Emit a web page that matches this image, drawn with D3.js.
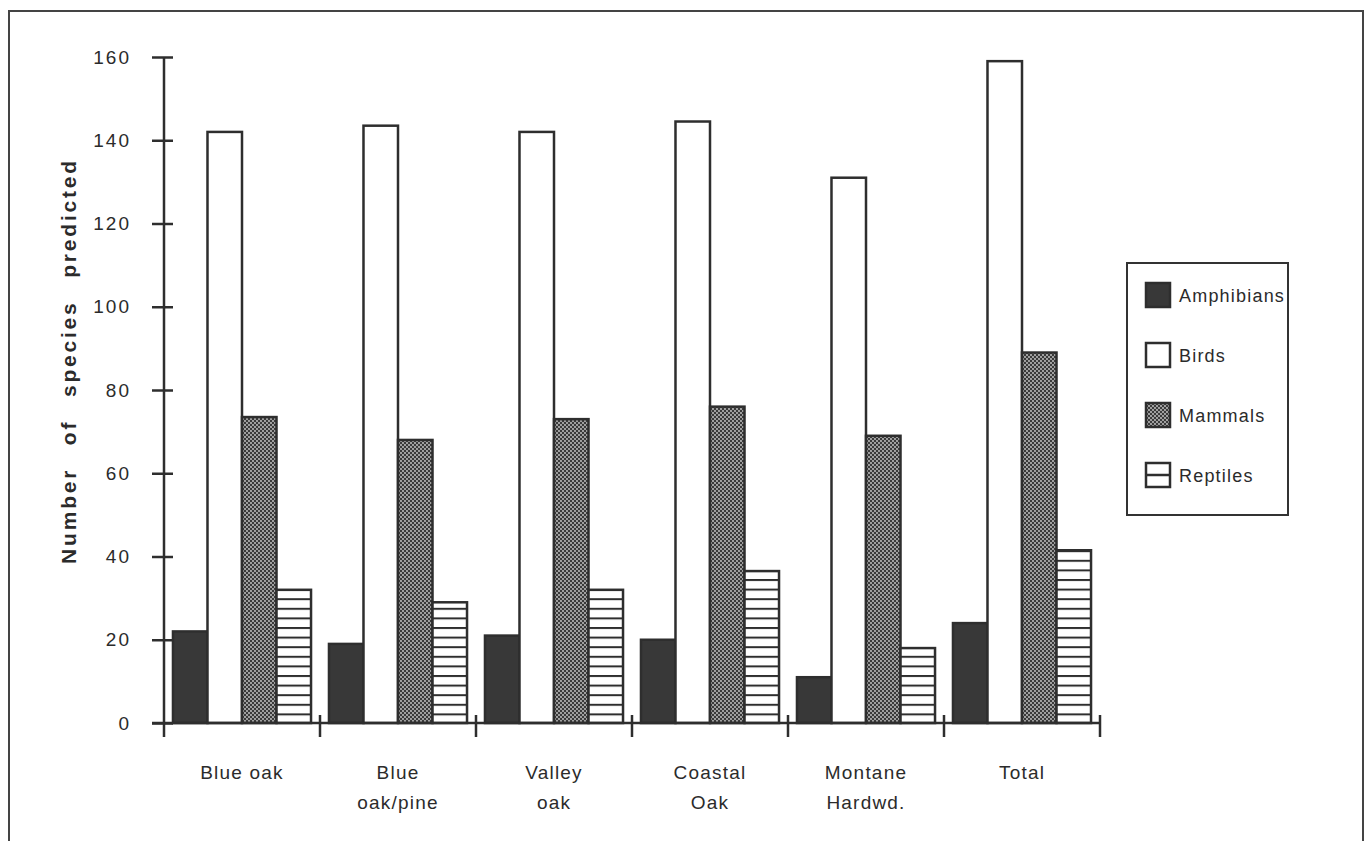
<!DOCTYPE html>
<html>
<head>
<meta charset="utf-8">
<script src="https://cdn.jsdelivr.net/npm/d3@7"></script>
<style>
  html, body { margin: 0; padding: 0; background: #fff; }
  svg { display: block; }
  text { font-family: "Liberation Sans", Arial, Helvetica, sans-serif; fill: #2b2b2b; }
</style>
</head>
<body>
<svg id="chart" width="1369" height="841"></svg>
<script>
// ---- data ----
const categories = ["Blue oak", "Blue oak/pine", "Valley oak", "Coastal Oak", "Montane Hardwd.", "Total"];
const labelLine1 = ["Blue oak", "Blue", "Valley", "Coastal", "Montane", "Total"];
const labelLine2 = ["", "oak/pine", "oak", "Oak", "Hardwd.", ""];
const series = ["Amphibians", "Birds", "Mammals", "Reptiles"];
const amphibians = [22, 19, 21, 20, 11, 24];
const birds = [142, 143.5, 142, 144.5, 131, 159];
const mammals = [73.5, 68, 73, 76, 69, 89];
const reptiles = [32, 29, 32, 36.5, 18, 41.5];
const yTicks = [0, 20, 40, 60, 80, 100, 120, 140, 160];
const yLabel = "Number of species predicted";

const values = { Amphibians: amphibians, Birds: birds, Mammals: mammals, Reptiles: reptiles };

// ---- setup ----
const svg = d3.select("#chart");
const ink = "#2e2e2e";

const defs = svg.append("defs");
// stipple pattern for mammals
const stip = defs.append("pattern").attr("id", "stipple")
  .attr("patternUnits", "userSpaceOnUse").attr("width", 4).attr("height", 4);
stip.append("rect").attr("width", 4).attr("height", 4).attr("fill", "#3a3a3a");
stip.append("circle").attr("cx", 1).attr("cy", 1).attr("r", 0.9).attr("fill", "#d0d0d0");
stip.append("circle").attr("cx", 3).attr("cy", 3).attr("r", 0.9).attr("fill", "#d0d0d0");

// horizontal line pattern for reptiles
const y = d3.scaleLinear().domain([0, 160]).range([723, 57]);
const hatchH = 9.6;
const hatch = defs.append("pattern").attr("id", "hlines")
  .attr("patternUnits", "userSpaceOnUse").attr("width", 10).attr("height", hatchH)
  .attr("y", y(0));
hatch.append("rect").attr("width", 10).attr("height", hatchH).attr("fill", "#fff");
hatch.append("rect").attr("y", 0).attr("width", 10).attr("height", 2).attr("fill", ink);

const fills = { Amphibians: "#383838", Birds: "#ffffff", Mammals: "url(#stipple)", Reptiles: "url(#hlines)" };

// outer frame
svg.append("path").attr("d", "M9,845 L9,11 L1363,11 L1363,845")
  .attr("fill", "none").attr("stroke", "#444").attr("stroke-width", 2);

const x0 = d3.scaleBand().domain(categories).range([164, 1100]).padding(0);
const x1 = d3.scaleBand().domain(series).range([0, x0.bandwidth()]).paddingInner(0).paddingOuter(0.26);

// bars
const groups = svg.append("g").selectAll("g").data(categories).join("g")
  .attr("transform", d => `translate(${x0(d)},0)`);
groups.selectAll("rect")
  .data((c, i) => series.map(s => ({ s, v: values[s][i] })))
  .join("rect")
  .attr("x", d => x1(d.s))
  .attr("width", x1.bandwidth())
  .attr("y", d => y(d.v))
  .attr("height", d => y(0) - y(d.v))
  .attr("fill", d => fills[d.s])
  .attr("stroke", ink)
  .attr("stroke-width", 2.5);

// y axis
const yAxis = svg.append("g").attr("transform", "translate(164,0)")
  .call(d3.axisLeft(y).tickValues(yTicks).tickSize(12).tickPadding(21).tickFormat(d3.format("d")));
yAxis.select(".domain").remove();
yAxis.selectAll(".tick line").attr("x1", 9).attr("x2", -12).attr("stroke", ink).attr("stroke-width", 2.5);
yAxis.selectAll(".tick text").attr("font-size", 19).attr("letter-spacing", 2)
  .attr("fill", "#2b2b2b").style("font-family", "'Liberation Sans', Arial, sans-serif");
svg.append("line").attr("x1", 164).attr("x2", 164).attr("y1", y(160)).attr("y2", 737)
  .attr("stroke", ink).attr("stroke-width", 2.5);

// x axis
svg.append("line").attr("x1", 152).attr("x2", 1100).attr("y1", y(0)).attr("y2", y(0))
  .attr("stroke", ink).attr("stroke-width", 2.5);
const bounds = categories.map(c => x0(c)).concat([x0(categories[categories.length - 1]) + x0.bandwidth()]);
svg.append("g").selectAll("line").data(bounds.slice(1)).join("line")
  .attr("x1", d => d).attr("x2", d => d).attr("y1", 715).attr("y2", 737)
  .attr("stroke", ink).attr("stroke-width", 2.5);

// category labels
const lab = svg.append("g").selectAll("g").data(categories).join("g")
  .attr("transform", d => `translate(${x0(d) + x0.bandwidth() / 2},0)`);
lab.append("text").attr("y", 779).attr("text-anchor", "middle").attr("font-size", 19)
  .attr("letter-spacing", 1.2).text((d, i) => labelLine1[i]);
lab.append("text").attr("y", 809).attr("text-anchor", "middle").attr("font-size", 19)
  .attr("letter-spacing", 1.2).text((d, i) => labelLine2[i]);

// y label
svg.append("text").attr("transform", "translate(76,361) rotate(-90)")
  .attr("text-anchor", "middle").attr("font-size", 21).attr("font-weight", "bold")
  .attr("letter-spacing", 2.8).attr("word-spacing", 14)
  .text(yLabel);

// legend
const lg = svg.append("g");
lg.append("rect").attr("x", 1127).attr("y", 263).attr("width", 161).attr("height", 252)
  .attr("fill", "#fff").attr("stroke", "#333").attr("stroke-width", 2);
const items = lg.selectAll("g").data(series).join("g")
  .attr("transform", (d, i) => `translate(1146,${283 + i * 60})`);
items.append("rect").attr("width", 24).attr("height", 24)
  .attr("fill", d => d === "Reptiles" ? "#fff" : fills[d])
  .attr("stroke", ink).attr("stroke-width", 2.5);
items.filter(d => d === "Reptiles").append("line")
  .attr("x1", 0).attr("x2", 24).attr("y1", 12).attr("y2", 12)
  .attr("stroke", ink).attr("stroke-width", 2.5);
items.append("text").attr("x", 33).attr("y", 19).attr("font-size", 18)
  .attr("letter-spacing", 1.2).text(d => d);
</script>
</body>
</html>
